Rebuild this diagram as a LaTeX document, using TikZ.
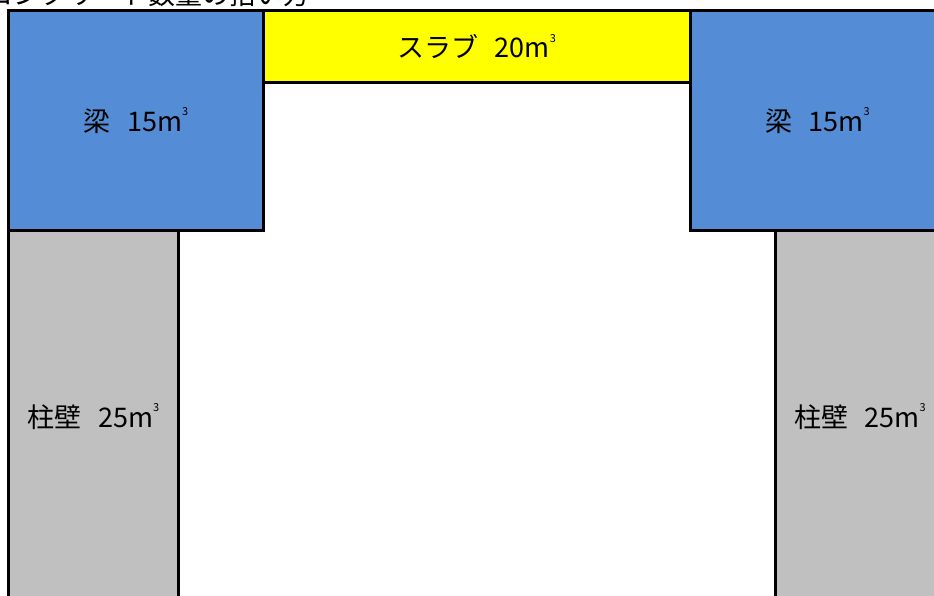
\documentclass[tikz,border=0pt]{standalone}
\usepackage{fontspec}
\usepackage{tikz}
\usetikzlibrary{positioning}
\newfontfamily\jpfont{Noto Sans CJK JP}
\definecolor{beamblue}{RGB}{84,141,213}
\definecolor{wallgray}{RGB}{192,192,192}
\definecolor{slabyellow}{RGB}{255,255,0}
\newcommand{\cubicm}{m\raisebox{0.58em}{\fontsize{11}{11}\selectfont 3}}
\tikzset{>=latex,
  part/.style={draw=black, line width=3pt, inner sep=0pt, outer sep=0pt,
    font=\jpfont\fontsize{27}{30}\selectfont},
  beam/.style={part, fill=beamblue, minimum width=255pt, minimum height=220pt},
  slab/.style={part, fill=slabyellow, minimum width=426.5pt, minimum height=72pt},
  wall/.style={part, fill=wallgray, minimum width=170pt, minimum height=371.5pt}}

\begin{document}
\begin{tikzpicture}[x=1pt, y=1pt]
  \useasboundingbox (0,0) rectangle (934,-596);
  \node [anchor=base west, inner sep=0pt, font=\jpfont\fontsize{27}{30}\selectfont] (title)
    at (-14,-5) {コンクリート数量の拾い方};
  \node [beam, anchor=north west] (beamL) at (8.5,-10.5) {梁\hspace{0.6em}15\cubicm};
  \node [slab, anchor=north west] (slab) at (beamL.north east) {スラブ\hspace{0.6em}20\cubicm};
  \node [beam, anchor=north west] (beamR) at (slab.north east) {梁\hspace{0.6em}15\cubicm};
  \node [wall, anchor=north west] (wallL) at (beamL.south west) {柱壁\hspace{0.6em}25\cubicm};
  \node [wall, anchor=north east] (wallR) at (beamR.south east) {柱壁\hspace{0.6em}25\cubicm};
\end{tikzpicture}
\end{document}
